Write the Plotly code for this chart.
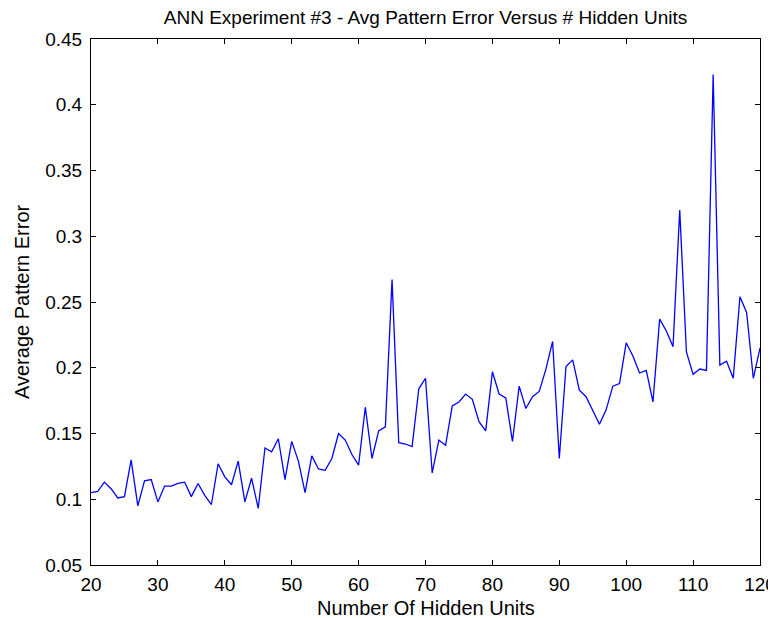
import plotly.graph_objects as go

hidden_units = list(range(20, 121))
avg_error = [
    0.105, 0.106, 0.113, 0.108, 0.101, 0.102, 0.130, 0.095, 0.114, 0.115,  # 20-29
    0.098, 0.110, 0.110, 0.112, 0.113, 0.102, 0.112, 0.103, 0.096, 0.127,  # 30-39
    0.117, 0.111, 0.129, 0.098, 0.116, 0.093, 0.139, 0.136, 0.146, 0.115,  # 40-49
    0.144, 0.129, 0.105, 0.133, 0.123, 0.122, 0.131, 0.150, 0.145, 0.134,  # 50-59
    0.126, 0.170, 0.131, 0.152, 0.155, 0.267, 0.143, 0.142, 0.140, 0.184,  # 60-69
    0.192, 0.120, 0.145, 0.141, 0.171, 0.174, 0.180, 0.176, 0.159, 0.152,  # 70-79
    0.197, 0.180, 0.177, 0.144, 0.186, 0.169, 0.178, 0.182, 0.199, 0.220,  # 80-89
    0.131, 0.201, 0.206, 0.183, 0.178, 0.168, 0.157, 0.168, 0.186, 0.188,  # 90-99
    0.219, 0.209, 0.196, 0.198, 0.174, 0.237, 0.228, 0.216, 0.320, 0.212,  # 100-109
    0.195, 0.199, 0.198, 0.423, 0.202, 0.205, 0.192, 0.254, 0.242, 0.192,  # 110-119
    0.215,  # 120
]

x_ticks = [20, 30, 40, 50, 60, 70, 80, 90, 100, 110, 120]
y_ticks = [0.05, 0.1, 0.15, 0.2, 0.25, 0.3, 0.35, 0.4, 0.45]
y_tick_labels = ["0.05", "0.1", "0.15", "0.2", "0.25", "0.3", "0.35", "0.4", "0.45"]

title_text = "ANN Experiment #3 - Avg Pattern Error Versus # Hidden Units"
x_label = "Number Of Hidden Units"
y_label = "Average Pattern Error"

FONT = "Liberation Sans, Arial, sans-serif"

fig = go.Figure()
fig.add_trace(go.Scatter(
    x=hidden_units, y=avg_error, mode="lines",
    line=dict(color="#0000FF", width=1.3),
    showlegend=False,
))

axis_common = dict(
    showline=True, linecolor="black", linewidth=1, mirror="ticks",
    ticks="inside", ticklen=5, tickcolor="black", tickwidth=1,
    showgrid=False, zeroline=False, automargin=False,
    tickfont=dict(family=FONT, size=19, color="black"),
)

# page body has an 8px margin; figure sized so the page is 776x618
fig.update_layout(
    width=768, height=610,
    paper_bgcolor="white", plot_bgcolor="white",
    margin=dict(l=83, r=16, t=31, b=53),
    font=dict(family=FONT, color="black"),
    title=dict(
        text=title_text,
        font=dict(family=FONT, size=19, color="black"),
        x=(83 + 752) / 2 / 768, xanchor="center",
        y=1 - 9 / 610, yanchor="middle",
    ),
    xaxis=dict(range=[20, 120], tickvals=x_ticks, ticklabelstandoff=2, **axis_common),
    yaxis=dict(range=[0.05, 0.45], tickvals=y_ticks, ticktext=y_tick_labels,
               ticklabelstandoff=4, **axis_common),
    annotations=[
        dict(text=x_label, xref="paper", yref="paper", x=0.5, y=(557 - 600) / 526,
             xanchor="center", yanchor="middle", showarrow=False,
             font=dict(family=FONT, size=20, color="black")),
        dict(text=y_label, xref="paper", yref="paper", x=(14 - 83) / 669, y=0.5,
             xanchor="center", yanchor="middle", showarrow=False, textangle=-90,
             font=dict(family=FONT, size=20, color="black")),
    ],
)

fig.write_html("out.html")
